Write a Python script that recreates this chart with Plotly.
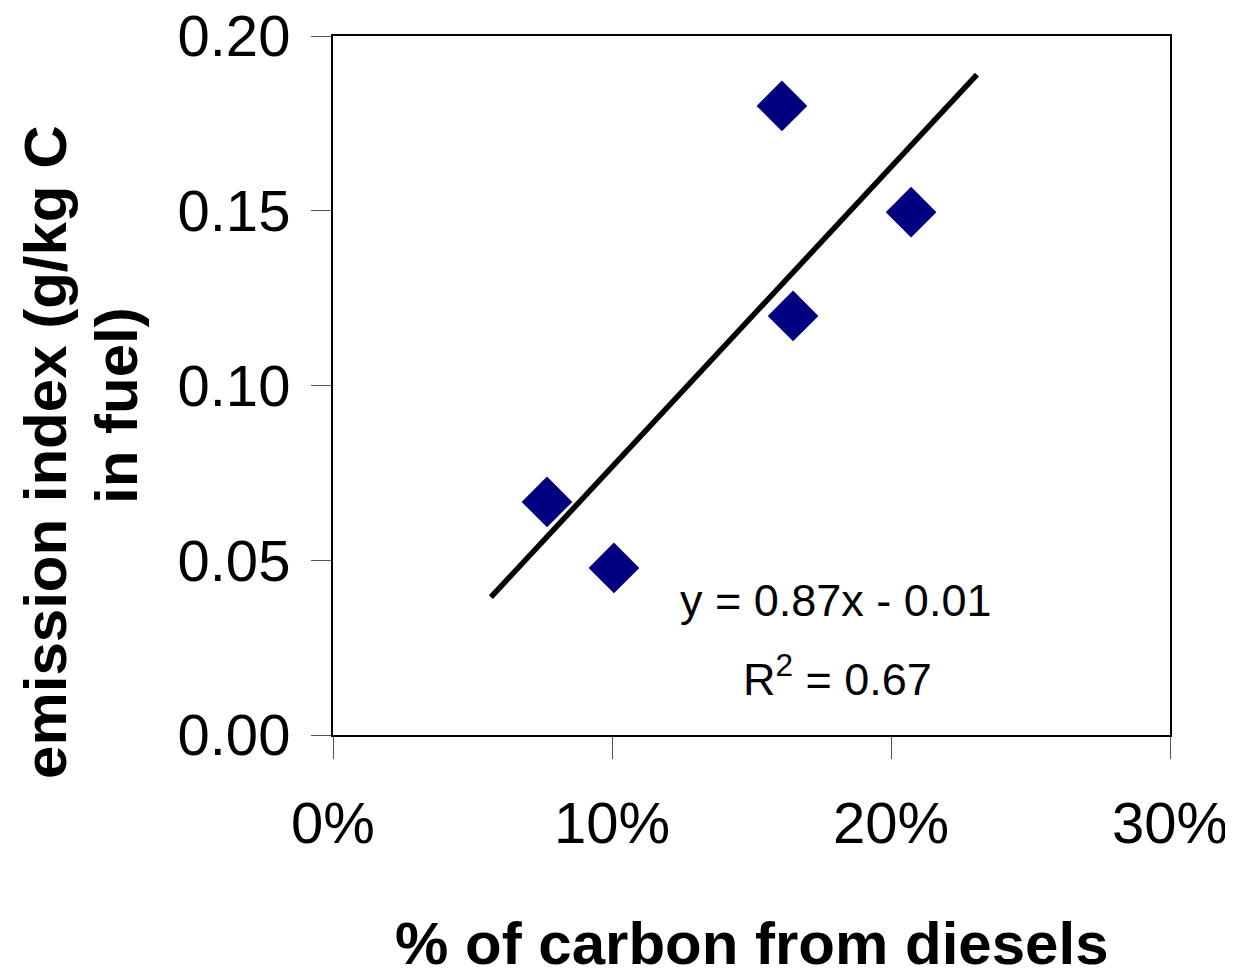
import numpy as np
import plotly.graph_objects as go

# Data
x_diesel_share = [0.0767, 0.1007, 0.1609, 0.1649, 0.2072]
y_emission_index = [0.0667, 0.0478, 0.1800, 0.1199, 0.1496]
trend_x_extent = [0.0566, 0.2308]
x_tickvals = [0.0, 0.1, 0.2, 0.3]
x_ticktext = ["0%", "10%", "20%", "30%"]
y_tickvals = [0.0, 0.05, 0.10, 0.15, 0.20]
y_ticktext = ["0.00", "0.05", "0.10", "0.15", "0.20"]
equation_text = "y = 0.87x - 0.01"
r2_text = "R<sup>2</sup> = 0.67"
x_title = "% of carbon from diesels"
y_title_line1 = "emission index (g/kg C"
y_title_line2 = "in fuel)"

slope, intercept = np.polyfit(x_diesel_share, y_emission_index, 1)
trend_y = [slope * v + intercept for v in trend_x_extent]

REG = "Liberation Sans, Arial, sans-serif"
BOLD = "Liberation Sans, Arial, sans-serif"

fig = go.Figure()
fig.add_trace(go.Scatter(
    x=trend_x_extent, y=trend_y, mode="lines",
    line=dict(color="black", width=5.5), hoverinfo="skip", showlegend=False,
))
fig.add_trace(go.Scatter(
    x=x_diesel_share, y=y_emission_index, mode="markers",
    marker=dict(symbol="diamond", size=39, color="#000080", line=dict(width=0)),
    showlegend=False,
))

# page body has an 8px default margin: compensate so the chart lands where the reference has it
fig.update_layout(
    width=1225, height=970,
    margin=dict(l=325, r=63, t=28, b=243, pad=0, autoexpand=False),
    paper_bgcolor="white", plot_bgcolor="white",
    xaxis=dict(
        range=[0, 0.3], tickvals=x_tickvals, ticktext=x_ticktext,
        showgrid=False, zeroline=False, automargin=False,
        showline=True, linecolor="black", linewidth=2, mirror=True,
        ticks="outside", ticklen=22, tickwidth=1, tickcolor="#555555",
        tickfont=dict(family=REG, size=58, color="black"),
        ticklabelstandoff=14, ticklabeloverflow="allow",
    ),
    yaxis=dict(
        range=[0, 0.2], tickvals=y_tickvals, ticktext=y_ticktext,
        showgrid=False, zeroline=False, automargin=False,
        showline=True, linecolor="black", linewidth=2, mirror=True,
        ticks="outside", ticklen=20, tickwidth=1, tickcolor="#555555",
        tickfont=dict(family=REG, size=58, color="black"),
        ticklabelstandoff=9, ticklabeloverflow="allow",
    ),
    annotations=[
        dict(text=equation_text, x=0.1800, y=0.0385, xref="x", yref="y",
             xanchor="center", yanchor="middle", showarrow=False,
             font=dict(family=REG, size=45, color="black")),
        dict(text=r2_text, x=0.1810, y=0.0170, xref="x", yref="y",
             xanchor="center", yanchor="middle", showarrow=False,
             font=dict(family=REG, size=45, color="black")),
        dict(text="<b>" + x_title + "</b>", x=0.5, y=-0.298, xref="paper", yref="paper",
             xanchor="center", yanchor="middle", showarrow=False,
             font=dict(family=BOLD, size=60, color="black")),
        dict(text="<b>" + y_title_line1 + "</b>", x=-0.3429, y=0.4049, xref="paper", yref="paper",
             xanchor="center", yanchor="middle", showarrow=False, textangle=-90,
             font=dict(family=BOLD, size=60, color="black")),
        dict(text="<b>" + y_title_line2 + "</b>", x=-0.2593, y=0.4721, xref="paper", yref="paper",
             xanchor="center", yanchor="middle", showarrow=False, textangle=-90,
             font=dict(family=BOLD, size=60, color="black")),
    ],
)

fig.write_html("out.html")
